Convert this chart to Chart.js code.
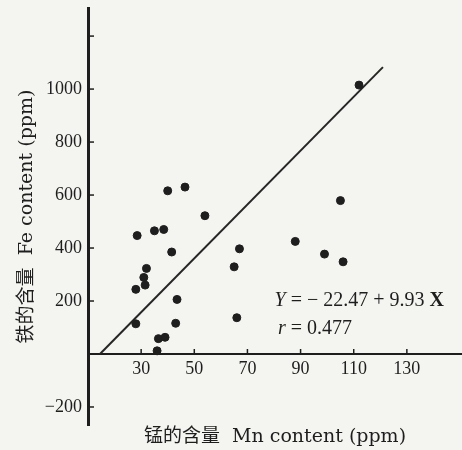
<!DOCTYPE html>
<html>
<head>
<meta charset="utf-8">
<script src="https://cdn.jsdelivr.net/npm/chart.js@4.4.1/dist/chart.umd.min.js"></script>
<style>
  html, body { margin: 0; padding: 0; background: #f4f4f1; }
  #wrap { width: 462px; height: 450px; position: relative; }
</style>
</head>
<body>
<div id="wrap"><canvas id="mnFeChart"></canvas></div>
<script>
// Mn content vs Fe content (ppm)
const mnValues = [112, 40, 46.5, 54, 105, 28.5, 35, 38.5, 41.5, 32, 31, 31.5, 28, 43.5, 28, 43, 36.5, 39, 36, 67, 65, 66, 88, 99, 106];
const feValues = [1015, 616, 630, 522, 579, 447, 465, 470, 385, 323, 289, 260, 244, 206, 114, 116, 58, 63, 12, 397, 329, 137, 425, 377, 348];

// regression line as it is drawn in the figure (end points)
const lineMn = [14.5, 121];
const lineFe = [0, 1083];

const xTicks = [30, 50, 70, 90, 110, 130];
const yTicks = [-200, 200, 400, 600, 800, 1000];
const yTickLabels = ['\u2212200', '200', '400', '600', '800', '1000'];
const yExtraTicks = [1200]; // tick mark without a label

const ink = '#1e1e1e';
const serif = "'Liberation Serif', 'Noto Sans CJK SC', serif";
const titleFont = "'DejaVu Serif', 'Noto Sans CJK SC', serif";

// small tick marks pointing into the plot + regression text
const innerTicks = {
    id: 'innerTicks',
    afterDraw(chart) {
        const { ctx, scales: { x, y } } = chart;
        const y0 = y.getPixelForValue(0);
        const x0 = x.getPixelForValue(x.min);
        ctx.save();
        ctx.strokeStyle = ink;
        ctx.lineWidth = 1.5;
        xTicks.forEach(v => {
            const px = x.getPixelForValue(v);
            ctx.beginPath();
            ctx.moveTo(px, y0);
            ctx.lineTo(px, y0 - 5);
            ctx.stroke();
        });
        yTicks.concat(yExtraTicks).forEach(v => {
            const py = y.getPixelForValue(v);
            ctx.beginPath();
            ctx.moveTo(x0, py);
            ctx.lineTo(x0 + 6, py);
            ctx.stroke();
        });

        // equation text
        ctx.fillStyle = ink;
        ctx.textBaseline = 'alphabetic';
        let tx = x.getPixelForValue(80.2);
        let ty = y.getPixelForValue(183);
        const parts = [
            ['italic 20px ' + serif, 'Y'],
            ['20px ' + serif, ' = \u2212 22.47 + 9.93 '],
            ['bold 20px ' + serif, 'X']
        ];
        parts.forEach(([f, t]) => {
            ctx.font = f;
            ctx.fillText(t, tx, ty);
            tx += ctx.measureText(t).width;
        });
        tx = x.getPixelForValue(81.5);
        ty = y.getPixelForValue(77);
        [['italic 20px ' + serif, 'r'], ['20px ' + serif, ' = 0.477']].forEach(([f, t]) => {
            ctx.font = f;
            ctx.fillText(t, tx, ty);
            tx += ctx.measureText(t).width;
        });
        ctx.restore();
    }
};

const ctx = document.getElementById('mnFeChart').getContext('2d');
const mnFeChart = new Chart(ctx, {
    type: 'scatter',
    data: {
        datasets: [
            {
                label: 'Samples',
                data: mnValues.map((m, i) => ({ x: m, y: feValues[i] })),
                backgroundColor: ink,
                borderColor: ink,
                pointRadius: 4,
            },
            {
                label: 'Regression',
                data: lineMn.map((m, i) => ({ x: m, y: lineFe[i] })),
                showLine: true,
                borderColor: '#262626',
                borderWidth: 2,
                pointRadius: 0,
            }
        ],
    },
    options: {
        responsive: true,
        maintainAspectRatio: false,
        animation: false,
        layout: { autoPadding: false, padding: { top: 8, right: 0, bottom: 25, left: 0 } },
        plugins: {
            legend: { display: false },
            tooltip: { enabled: false },
        },
        scales: {
            x: {
                type: 'linear',
                position: { y: 0 },
                min: 10,
                max: 150.75,
                afterBuildTicks: axis => { axis.ticks = xTicks.map(v => ({ value: v })); },
                afterFit: axis => { axis.paddingLeft = 0; axis.paddingRight = 0; },
                grid: { display: false, drawTicks: false },
                border: { display: true, color: ink, width: 2 },
                ticks: { color: ink, padding: 4, font: { family: serif, size: 18 } },
                title: {
                    display: true,
                    text: '锰的含量  Mn content (ppm)',
                    color: ink,
                    font: { family: titleFont, size: 19 },
                    padding: { top: 42, bottom: 0 },
                },
            },
            y: {
                type: 'linear',
                min: -268,
                max: 1306,
                afterBuildTicks: axis => { axis.ticks = yTicks.map(v => ({ value: v })); },
                afterFit: axis => { axis.width = 88; axis.paddingTop = 0; axis.paddingBottom = 0; },
                grid: { display: false, drawTicks: false },
                border: { display: true, color: ink, width: 3 },
                ticks: {
                    color: ink,
                    padding: 6,
                    font: { family: serif, size: 18 },
                    callback: (value, index) => yTickLabels[index],
                },
                title: {
                    display: true,
                    text: '铁的含量  Fe content (ppm)',
                    color: ink,
                    font: { family: titleFont, size: 19 },
                    padding: { top: 16, bottom: 0 },
                },
            },
        },
    },
    plugins: [innerTicks],
});
</script>
</body>
</html>
